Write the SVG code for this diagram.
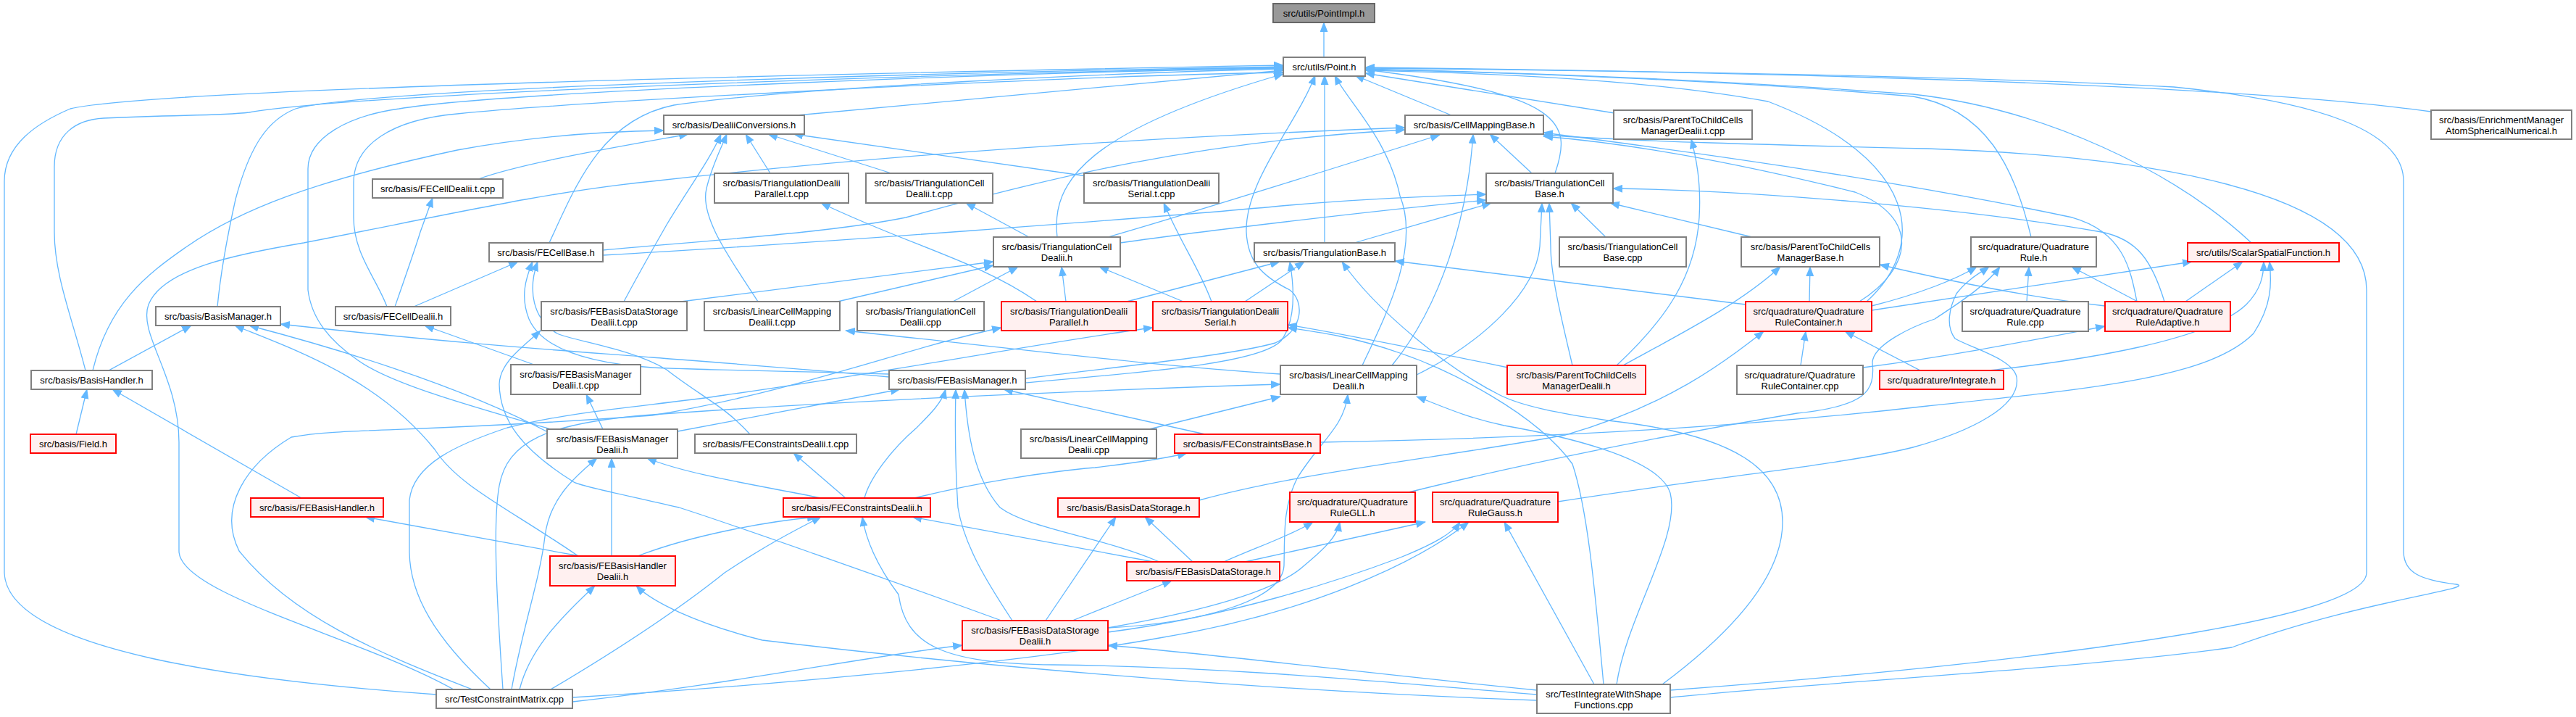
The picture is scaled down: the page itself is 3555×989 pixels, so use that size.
<svg xmlns="http://www.w3.org/2000/svg" width="3555" height="989" viewBox="0 0 3555 989">
<defs>
<marker id="a" markerUnits="userSpaceOnUse" markerWidth="14" markerHeight="11" refX="13" refY="5.5" orient="auto" viewBox="0 0 14 11"><path d="M0,0 L14,5.5 L0,11 z" fill="#63b8ff"/></marker>
<style>
.e path{fill:none;stroke:#63b8ff;stroke-width:1.3;marker-end:url(#a)}
.n rect{fill:#ffffff;stroke:#808080;stroke-width:2}
.r rect{fill:#fff0f0;stroke:#ff0000;stroke-width:2}
.g rect{fill:#999999;stroke:#666666;stroke-width:2}
text{font-family:"Liberation Sans",Arial,Helvetica,sans-serif;font-size:13px;text-anchor:middle;fill:#000000}
</style>
</defs>
<rect x="0" y="0" width="3555" height="989" fill="#ffffff"/>
<g id="edges" class="e">
<path d="M1827,79 L1827,31"/>
<path d="M1100,159 L1771,97"/>
<path d="M2003,159 L1870,104"/>
<path d="M2228,156 L1884,101"/>
<path d="M2146,239 C2170,170 2160,130 1884,96"/>
<path d="M1828,335 L1828,104"/>
<path d="M758,335 C795,255 830,165 930,145 C1100,120 1550,100 1771,95"/>
<path d="M534,423 C520,385 488,350 488,300 L488,252 C488,200 540,165 631,157 C800,140 1450,105 1771,100"/>
<path d="M300,423 C305,370 315,320 325,275 C345,200 370,165 408,150 C520,118 1450,97 1771,92"/>
<path d="M118,511 C100,440 75,380 75,320 L75,230 C75,185 105,165 143,163 C250,158 300,160 344,155 C520,125 1450,98 1771,93"/>
<path d="M602,958 C350,940 10,900 6,790 L6,250 C6,200 50,170 97,150 C230,118 1450,96 1771,90"/>
<path d="M760,592 C650,560 540,530 494,497 C455,470 430,440 425,400 L425,233 C425,190 480,160 551,150 C700,125 1450,99 1771,94"/>
<path d="M1459,327 C1450,250 1500,180 1771,102"/>
<path d="M1415,522 C1550,505 1700,490 1760,473 C1800,455 1800,415 1780,400 C1740,380 1722,360 1720,320 C1718,250 1790,170 1815,104"/>
<path d="M1880,504 C1915,430 1960,340 1932,270 C1915,190 1860,140 1842,104"/>
<path d="M2803,327 C2780,230 2740,150 2640,133 C2400,112 2100,100 1884,96"/>
<path d="M3107,335 C3000,235 2820,150 2640,130 C2300,105 2000,98 1884,95"/>
<path d="M2576,416 C2660,340 2650,220 2440,140 C2250,105 2000,100 1884,97"/>
<path d="M3355,154 C3100,118 2500,100 1884,93"/>
<path d="M2305,962 C2500,942 2900,920 3080,893 C3250,830 3420,812 3390,806 C3340,800 3317,790 3317,760 L3317,250 C3317,180 3200,140 3000,120 C2700,103 2100,96 1884,94"/>
<path d="M128,511 C150,420 200,380 258,340 C330,290 430,250 631,207 C750,185 850,181 916,180"/>
<path d="M660,247 C720,225 850,203 950,185"/>
<path d="M861,416 C880,380 900,345 920,310 C950,260 980,220 995,185"/>
<path d="M1046,416 C1010,360 965,300 975,260 C982,230 995,205 1003,185"/>
<path d="M1063,239 L1029,185"/>
<path d="M1230,239 L1060,185"/>
<path d="M1500,243 L1095,185"/>
<path d="M626,951 C500,880 247,820 247,760 L247,610 C247,520 190,460 205,420 C225,370 330,350 419,335 C600,300 750,265 900,250 C1300,205 1700,185 1939,176"/>
<path d="M832,345 C1000,330 1150,320 1250,300 C1450,245 1650,195 1939,179"/>
<path d="M1529,327 C1650,292 1800,245 1987,186"/>
<path d="M1921,504 C1990,420 2025,300 2033,185"/>
<path d="M2114,239 L2056,185"/>
<path d="M2305,952 C2600,930 3266,870 3266,790 L3266,400 C3266,260 2950,215 2660,205 C2450,200 2250,195 2130,186"/>
<path d="M2566,416 C2640,370 2650,300 2560,265 C2400,225 2250,198 2130,188"/>
<path d="M2949,416 C2940,370 2930,320 2860,300 C2600,245 2300,205 2130,183"/>
<path d="M2231,504 C2300,440 2340,380 2345,300 C2348,250 2340,215 2334,192"/>
<path d="M832,352 C1100,337 1600,300 1780,283 C1900,272 2000,270 2051,268"/>
<path d="M1546,335 C1650,320 1900,290 2051,276"/>
<path d="M1869,335 L2058,280"/>
<path d="M1955,517 C2050,470 2120,400 2125,340 L2128,280"/>
<path d="M2170,504 C2155,440 2140,380 2140,340 L2138,280"/>
<path d="M2216,327 L2168,280"/>
<path d="M2418,327 L2222,280"/>
<path d="M2987,416 C2970,360 2950,330 2900,320 C2700,285 2400,262 2226,260"/>
<path d="M1315,416 L1405,368"/>
<path d="M1471,416 L1465,368"/>
<path d="M1633,416 L1517,368"/>
<path d="M940,416 L1371,361"/>
<path d="M1156,416 L1371,366"/>
<path d="M1555,416 L1766,361"/>
<path d="M1718,416 L1800,361"/>
<path d="M2409,420 L1925,360"/>
<path d="M2294,944 C2380,880 2460,800 2460,720 C2460,650 2400,600 2219,580 C2150,570 2100,560 2070,545 C2000,510 1900,430 1852,361"/>
<path d="M1415,528 C1600,512 1740,500 1768,470 C1790,440 1785,390 1780,361"/>
<path d="M2497,416 L2498,368"/>
<path d="M2240,504 C2320,460 2400,420 2457,368"/>
<path d="M2905,422 C2800,410 2700,390 2594,365"/>
<path d="M2797,416 L2800,368"/>
<path d="M2950,416 L2859,368"/>
<path d="M2583,422 C2650,405 2700,385 2728,368"/>
<path d="M2150,692 C2350,660 2550,640 2640,617 C2720,595 2790,560 2783,520 C2778,495 2720,480 2698,467 C2685,450 2690,425 2700,405 C2715,385 2735,375 2745,368"/>
<path d="M1944,679 C2100,640 2300,600 2480,570 C2575,560 2588,540 2584,500 C2585,475 2640,450 2670,440 C2700,420 2740,395 2760,368"/>
<path d="M2583,428 C2700,410 2900,380 3025,361"/>
<path d="M3016,416 L3095,361"/>
<path d="M2745,511 C2873,497 3048,470 3100,420 C3120,400 3124,380 3124,361"/>
<path d="M1822,610 C2100,605 2400,590 2660,560 C2900,535 3050,520 3110,460 C3136,420 3135,390 3132,361"/>
<path d="M2571,507 C2700,490 2800,470 2905,450"/>
<path d="M2485,504 L2492,457"/>
<path d="M2650,511 L2546,457"/>
<path d="M1655,690 C1800,650 2000,630 2160,600 C2300,560 2380,500 2434,457"/>
<path d="M1586,592 L1767,547"/>
<path d="M694,951 C685,820 680,720 689,670 C700,610 752,583 900,572 C1200,550 1600,535 1767,530"/>
<path d="M2231,944 C2245,850 2320,740 2305,680 C2290,630 2150,600 2076,587 C2020,575 1990,560 1955,547"/>
<path d="M1529,866 C1650,860 1770,830 1772,780 C1773,740 1770,700 1790,660 C1820,610 1855,590 1860,544"/>
<path d="M935,595 L1242,537"/>
<path d="M1193,687 C1200,660 1230,620 1265,590 C1285,570 1300,555 1305,537"/>
<path d="M1397,856 C1360,800 1330,750 1322,700 C1318,640 1318,580 1319,537"/>
<path d="M1600,775 C1520,740 1420,730 1380,700 C1345,660 1335,600 1331,537"/>
<path d="M1663,599 L1385,537"/>
<path d="M150,511 L264,449"/>
<path d="M1227,520 C1100,508 950,497 900,493 C800,485 660,477 387,447"/>
<path d="M798,767 C700,700 632,670 600,620 C520,520 400,480 324,449"/>
<path d="M758,597 C650,540 500,490 344,449"/>
<path d="M571,423 L715,361"/>
<path d="M1227,516 C1100,512 950,510 900,507 C800,500 746,477 730,440 C718,410 725,385 735,361"/>
<path d="M1035,599 C1000,560 966,546 920,510 C870,480 790,470 769,460 C735,440 728,400 742,361"/>
<path d="M737,503 L586,449"/>
<path d="M545,423 C560,380 574,340 580,320 L597,273"/>
<path d="M105,599 L120,537"/>
<path d="M416,687 L155,537"/>
<path d="M800,767 L504,713"/>
<path d="M717,951 C730,900 765,860 821,808"/>
<path d="M2121,966 C1800,955 1397,925 1052,883 C960,860 900,830 878,808"/>
<path d="M844,767 L844,632"/>
<path d="M706,951 C720,870 745,800 752,740 C758,690 790,660 824,632"/>
<path d="M1133,687 C1050,670 950,655 893,632"/>
<path d="M832,592 L809,544"/>
<path d="M1382,856 C1200,790 1000,720 937,700 C850,680 800,670 792,665 C720,620 690,580 689,530 C690,500 720,480 746,456"/>
<path d="M1767,516 C1600,505 1454,487 1167,456"/>
<path d="M1431,416 C1350,360 1259,340 1133,280"/>
<path d="M1420,327 L1333,280"/>
<path d="M1672,416 C1655,370 1632,340 1606,280"/>
<path d="M652,951 C520,900 402,850 330,760 C300,700 340,640 402,603 C470,590 574,597 900,573 C1100,540 1250,480 1382,452"/>
<path d="M677,951 C600,880 565,820 565,760 L565,690 C570,640 631,613 700,590 C800,565 900,560 1000,545 C1250,510 1450,470 1591,452"/>
<path d="M2213,944 C2200,800 2190,700 2170,640 C2120,570 2000,510 1932,487 C1870,465 1820,458 1777,452"/>
<path d="M2081,507 C1950,480 1850,460 1777,448"/>
<path d="M880,767 C950,740 1050,720 1127,713"/>
<path d="M760,951 C880,880 950,830 1000,790 C1060,750 1100,730 1133,713"/>
<path d="M1592,775 L1259,713"/>
<path d="M2121,958 C1900,940 1700,920 1454,917 C1300,915 1250,890 1240,820 C1210,780 1195,745 1190,713"/>
<path d="M1167,687 L1095,625"/>
<path d="M1262,687 C1350,665 1450,650 1511,645 C1570,638 1610,632 1638,625"/>
<path d="M1646,775 L1580,713"/>
<path d="M1443,856 L1540,713"/>
<path d="M1480,856 L1617,801"/>
<path d="M1689,775 C1720,760 1780,740 1812,720"/>
<path d="M1529,866 C1650,845 1760,817 1800,780 C1830,755 1845,740 1849,720"/>
<path d="M1718,775 L1967,720"/>
<path d="M1529,872 C1700,850 1850,800 1930,770 C1980,750 2005,735 2015,720"/>
<path d="M790,962 C1000,950 1397,917 1600,880 C1800,847 1950,780 2027,720"/>
<path d="M2200,944 L2076,720"/>
<path d="M790,968 C1000,945 1200,905 1328,890"/>
<path d="M2121,952 C1900,930 1700,905 1529,890"/>
</g>
<g id="n-pointimpl" class="g"><rect x="1757" y="5" width="140" height="26"/><text x="1827" y="22.5">src/utils/PointImpl.h</text></g>
<g id="n-point" class="n"><rect x="1771" y="79" width="113" height="26"/><text x="1827.5" y="96.5">src/utils/Point.h</text></g>
<g id="n-dealiiconv" class="n"><rect x="916" y="159" width="194" height="26"/><text x="1013" y="176.5">src/basis/DealiiConversions.h</text></g>
<g id="n-cellmapping" class="n"><rect x="1939" y="159" width="191" height="26"/><text x="2034.5" y="176.5">src/basis/CellMappingBase.h</text></g>
<g id="n-p2cdealiitcpp" class="n"><rect x="2227" y="152" width="191" height="40"/><text x="2322.5" y="169.5">src/basis/ParentToChildCells</text><text x="2322.5" y="184.5">ManagerDealii.t.cpp</text></g>
<g id="n-enrichment" class="n"><rect x="3355" y="152" width="194" height="40"/><text x="3452" y="169.5">src/basis/EnrichmentManager</text><text x="3452" y="184.5">AtomSphericalNumerical.h</text></g>
<g id="n-fecelldealiitcpp" class="n"><rect x="514" y="247" width="180" height="26"/><text x="604" y="264.5">src/basis/FECellDealii.t.cpp</text></g>
<g id="n-tridealiiparalleltcpp" class="n"><rect x="986" y="239" width="185" height="41"/><text x="1078.5" y="256.5">src/basis/TriangulationDealii</text><text x="1078.5" y="271.5">Parallel.t.cpp</text></g>
<g id="n-tricelldealiitcpp" class="n"><rect x="1195" y="239" width="175" height="41"/><text x="1282.5" y="256.5">src/basis/TriangulationCell</text><text x="1282.5" y="271.5">Dealii.t.cpp</text></g>
<g id="n-tridealiiserialtcpp" class="n"><rect x="1496" y="239" width="186" height="41"/><text x="1589" y="256.5">src/basis/TriangulationDealii</text><text x="1589" y="271.5">Serial.t.cpp</text></g>
<g id="n-tricellbase" class="n"><rect x="2051" y="239" width="175" height="41"/><text x="2138.5" y="256.5">src/basis/TriangulationCell</text><text x="2138.5" y="271.5">Base.h</text></g>
<g id="n-fecellbase" class="n"><rect x="675" y="335" width="157" height="26"/><text x="753.5" y="352.5">src/basis/FECellBase.h</text></g>
<g id="n-tricelldealii" class="n"><rect x="1371" y="327" width="175" height="41"/><text x="1458.5" y="344.5">src/basis/TriangulationCell</text><text x="1458.5" y="359.5">Dealii.h</text></g>
<g id="n-tribase" class="n"><rect x="1731" y="335" width="194" height="26"/><text x="1828" y="352.5">src/basis/TriangulationBase.h</text></g>
<g id="n-tricellbasecpp" class="n"><rect x="2152" y="327" width="175" height="41"/><text x="2239.5" y="344.5">src/basis/TriangulationCell</text><text x="2239.5" y="359.5">Base.cpp</text></g>
<g id="n-p2cmanagerbase" class="n"><rect x="2403" y="327" width="191" height="41"/><text x="2498.5" y="344.5">src/basis/ParentToChildCells</text><text x="2498.5" y="359.5">ManagerBase.h</text></g>
<g id="n-quadrule" class="n"><rect x="2720" y="327" width="173" height="41"/><text x="2806.5" y="344.5">src/quadrature/Quadrature</text><text x="2806.5" y="359.5">Rule.h</text></g>
<g id="n-scalarspatial" class="r"><rect x="3019" y="335" width="209" height="26"/><text x="3123.5" y="352.5">src/utils/ScalarSpatialFunction.h</text></g>
<g id="n-basismanager" class="n"><rect x="215" y="423" width="172" height="26"/><text x="301" y="440.5">src/basis/BasisManager.h</text></g>
<g id="n-fecelldealii" class="n"><rect x="463" y="423" width="159" height="26"/><text x="542.5" y="440.5">src/basis/FECellDealii.h</text></g>
<g id="n-febdsdealiitcpp" class="n"><rect x="747" y="416" width="201" height="40"/><text x="847.5" y="433.5">src/basis/FEBasisDataStorage</text><text x="847.5" y="448.5">Dealii.t.cpp</text></g>
<g id="n-lcmdealiitcpp" class="n"><rect x="972" y="416" width="187" height="40"/><text x="1065.5" y="433.5">src/basis/LinearCellMapping</text><text x="1065.5" y="448.5">Dealii.t.cpp</text></g>
<g id="n-tricelldealiicpp" class="n"><rect x="1183" y="416" width="175" height="40"/><text x="1270.5" y="433.5">src/basis/TriangulationCell</text><text x="1270.5" y="448.5">Dealii.cpp</text></g>
<g id="n-tridealiiparallel" class="r"><rect x="1382" y="416" width="186" height="40"/><text x="1475" y="433.5">src/basis/TriangulationDealii</text><text x="1475" y="448.5">Parallel.h</text></g>
<g id="n-tridealiiserial" class="r"><rect x="1591" y="416" width="186" height="40"/><text x="1684" y="433.5">src/basis/TriangulationDealii</text><text x="1684" y="448.5">Serial.h</text></g>
<g id="n-qrcontainer" class="r"><rect x="2409" y="416" width="174" height="41"/><text x="2496" y="433.5">src/quadrature/Quadrature</text><text x="2496" y="448.5">RuleContainer.h</text></g>
<g id="n-quadrulecpp" class="n"><rect x="2708" y="416" width="174" height="41"/><text x="2795" y="433.5">src/quadrature/Quadrature</text><text x="2795" y="448.5">Rule.cpp</text></g>
<g id="n-qradaptive" class="r"><rect x="2905" y="416" width="173" height="41"/><text x="2991.5" y="433.5">src/quadrature/Quadrature</text><text x="2991.5" y="448.5">RuleAdaptive.h</text></g>
<g id="n-basishandler" class="n"><rect x="43" y="511" width="167" height="26"/><text x="126.5" y="528.5">src/basis/BasisHandler.h</text></g>
<g id="n-febmdealiitcpp" class="n"><rect x="705" y="503" width="179" height="41"/><text x="794.5" y="520.5">src/basis/FEBasisManager</text><text x="794.5" y="535.5">Dealii.t.cpp</text></g>
<g id="n-febasismanager" class="n"><rect x="1227" y="511" width="188" height="26"/><text x="1321" y="528.5">src/basis/FEBasisManager.h</text></g>
<g id="n-lcmdealii" class="n"><rect x="1767" y="504" width="188" height="40"/><text x="1861" y="521.5">src/basis/LinearCellMapping</text><text x="1861" y="536.5">Dealii.h</text></g>
<g id="n-p2cdealii" class="r"><rect x="2080" y="504" width="191" height="40"/><text x="2175.5" y="521.5">src/basis/ParentToChildCells</text><text x="2175.5" y="536.5">ManagerDealii.h</text></g>
<g id="n-qrcontainercpp" class="n"><rect x="2397" y="504" width="174" height="40"/><text x="2484" y="521.5">src/quadrature/Quadrature</text><text x="2484" y="536.5">RuleContainer.cpp</text></g>
<g id="n-integrate" class="r"><rect x="2594" y="511" width="171" height="26"/><text x="2679.5" y="528.5">src/quadrature/Integrate.h</text></g>
<g id="n-field" class="r"><rect x="42" y="599" width="118" height="26"/><text x="101" y="616.5">src/basis/Field.h</text></g>
<g id="n-febmdealii" class="n"><rect x="755" y="592" width="180" height="40"/><text x="845" y="609.5">src/basis/FEBasisManager</text><text x="845" y="624.5">Dealii.h</text></g>
<g id="n-fecdealiitcpp" class="n"><rect x="959" y="599" width="223" height="26"/><text x="1070.5" y="616.5">src/basis/FEConstraintsDealii.t.cpp</text></g>
<g id="n-lcmdealiicpp" class="n"><rect x="1409" y="592" width="187" height="40"/><text x="1502.5" y="609.5">src/basis/LinearCellMapping</text><text x="1502.5" y="624.5">Dealii.cpp</text></g>
<g id="n-feconstraintsbase" class="r"><rect x="1621" y="599" width="201" height="26"/><text x="1721.5" y="616.5">src/basis/FEConstraintsBase.h</text></g>
<g id="n-febasishandler" class="r"><rect x="346" y="687" width="183" height="26"/><text x="437.5" y="704.5">src/basis/FEBasisHandler.h</text></g>
<g id="n-fecdealii" class="r"><rect x="1081" y="687" width="203" height="26"/><text x="1182.5" y="704.5">src/basis/FEConstraintsDealii.h</text></g>
<g id="n-basisdatastorage" class="r"><rect x="1460" y="687" width="195" height="26"/><text x="1557.5" y="704.5">src/basis/BasisDataStorage.h</text></g>
<g id="n-qrgll" class="r"><rect x="1780" y="679" width="173" height="41"/><text x="1866.5" y="696.5">src/quadrature/Quadrature</text><text x="1866.5" y="711.5">RuleGLL.h</text></g>
<g id="n-qrgauss" class="r"><rect x="1977" y="679" width="173" height="41"/><text x="2063.5" y="696.5">src/quadrature/Quadrature</text><text x="2063.5" y="711.5">RuleGauss.h</text></g>
<g id="n-febhdealii" class="r"><rect x="759" y="767" width="173" height="41"/><text x="845.5" y="784.5">src/basis/FEBasisHandler</text><text x="845.5" y="799.5">Dealii.h</text></g>
<g id="n-febds" class="r"><rect x="1555" y="775" width="211" height="26"/><text x="1660.5" y="792.5">src/basis/FEBasisDataStorage.h</text></g>
<g id="n-febdsdealii" class="r"><rect x="1328" y="856" width="201" height="41"/><text x="1428.5" y="873.5">src/basis/FEBasisDataStorage</text><text x="1428.5" y="888.5">Dealii.h</text></g>
<g id="n-testconstraint" class="n"><rect x="602" y="951" width="188" height="26"/><text x="696" y="968.5">src/TestConstraintMatrix.cpp</text></g>
<g id="n-testintegrate" class="n"><rect x="2121" y="944" width="184" height="40"/><text x="2213" y="961.5">src/TestIntegrateWithShape</text><text x="2213" y="976.5">Functions.cpp</text></g>
</svg>
